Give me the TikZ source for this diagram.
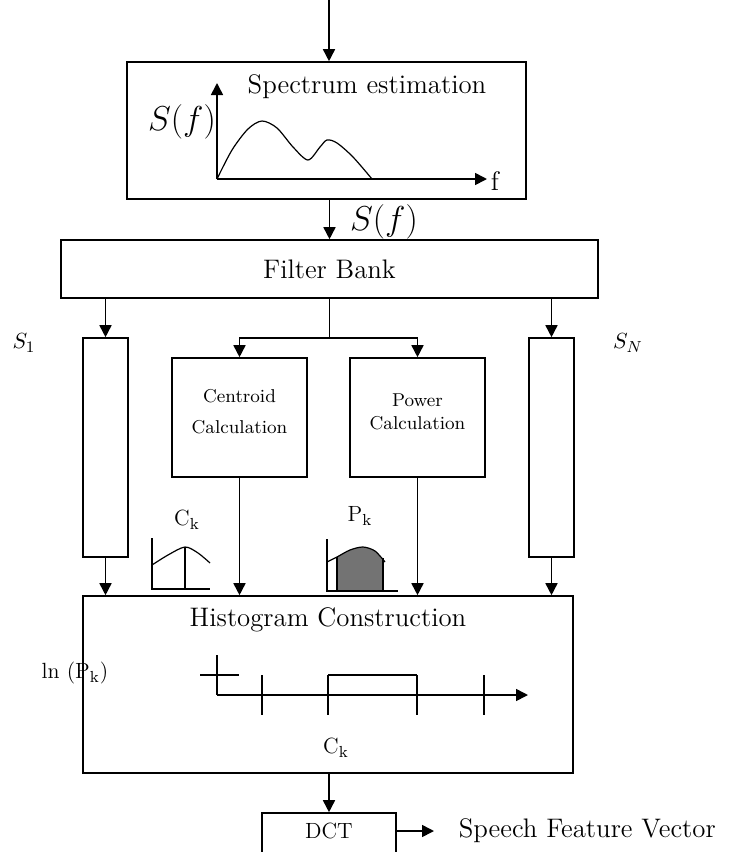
\documentclass[tikz,border=0pt]{standalone}
\usepackage{amsmath}
\usetikzlibrary{calc,arrows.meta}
\newcommand{\fsz}[1]{\fontsize{#1pt}{#1pt}\selectfont}
\tikzset{
  blk/.style={draw,inner sep=0pt},
  txt/.style={draw=none,fill=none,inner sep=1pt,align=center},
}

\begin{document}
\begin{tikzpicture}[x=0.5pt,y=-0.5pt,line width=0.8pt,>={Triangle[length=6pt,width=6pt]}]
  \useasboundingbox (0,0) rectangle (729,852);
  \clip (0,0) rectangle (729,852);

  % Spectrum estimation
  \coordinate (in) at (329,0);
  \node[blk,minimum width=199.5pt,minimum height=68.5pt] (spec) at (326.5,130.5) {};
  \node[txt] (spectitle) at (367,87) {\fsz{13.4}Spectrum estimation};
  \draw[->] (in) -- (in |- spec.north);

  % axes and curve of the spectrum
  \coordinate (o) at (217,179);
  \draw[->] (o) -- (217,83);
  \draw[->] (o) -- (487,179);
  \node[txt] (sfy) at (182,122) {\fsz{16}$S(f)$};
  \node[txt] (fx) at (495,181) {\fsz{13.4}f};
  \draw[line width=0.6pt] plot[smooth] coordinates {(217,179) (232,150) (248,129) (262,121) (277,128) (293,147) (308,160) (320,147) (327,140) (337,143) (353,157) (372,179)};

  % Filter bank
  \node[blk,minimum width=268.5pt,minimum height=29pt] (fb) at (329.5,269) {\fsz{13.4}Filter Bank};
  \draw[->] (spec.south -| fb.north) -- (fb.north);
  \node[txt] (sf) at (384,222) {\fsz{16}$S(f)$};

  % Channels S_1 ... S_N
  \node[blk,minimum width=22.5pt,minimum height=109.5pt] (s1) at (105.5,447.5) {};
  \node[blk,minimum width=22.5pt,minimum height=109.5pt] (sN) at (551.5,447.5) {};
  \node[txt] (s1lab) at (24,343) {\fsz{11}$S_1$};
  \node[txt] (sNlab) at (628,343) {\fsz{11}$S_N$};
  \draw[->] (fb.south -| s1.north) -- (s1.north);
  \draw[->] (fb.south -| sN.north) -- (sN.north);

  % Centroid and power
  \node[blk,minimum width=67.5pt,minimum height=59.5pt] (cent) at (239.5,417.5) {};
  \node[txt,font=\fontsize{9.3pt}{15.5pt}\selectfont] (centtxt) at (239.5,411.5) {Centroid\\Calculation};
  \node[blk,minimum width=67.5pt,minimum height=59.5pt] (pow) at (417.5,417.5) {};
  \node[txt,font=\fontsize{9.3pt}{11.5pt}\selectfont] (powtxt) at (417.5,411.5) {Power\\Calculation};
  \coordinate (split) at (329.5,338);
  \draw (fb.south) -- (split);
  \draw[->] (split) -| (cent.north);
  \draw[->] (split) -| (pow.north);

  % Histogram construction
  \node[blk,minimum width=245pt,minimum height=88.5pt] (hist) at (328,684.5) {};
  \node[txt] (histtitle) at (328,620) {\fsz{13.4}Histogram Construction};
  \foreach \b in {s1,cent,pow,sN}
    \draw[->] (\b.south) -- (\b.south |- hist.north);

  % small sketch of C_k
  \node[txt] (cklab) at (187,520) {\fsz{11}C$_\mathrm{k}$};
  \draw[line width=0.6pt] (152,538) -- (152,589) -- (210,589);
  \draw[line width=0.6pt] plot[smooth] coordinates {(152,565) (168,555) (185,547) (198,553) (210,563)};
  \draw[line width=0.6pt] (185,547) -- (185,589);

  % small sketch of P_k
  \node[txt] (pklab) at (360,516) {\fsz{11}P$_\mathrm{k}$};
  \begin{scope}
    \clip (337,500) rectangle (383,591);
    \fill[black!55] (327,591) -- plot[smooth] coordinates {(327,562) (337,557) (350,550) (363,547) (375,551) (385,562)} -- (385,591) -- cycle;
  \end{scope}
  \draw[line width=0.6pt] plot[smooth] coordinates {(327,562) (337,557) (350,550) (363,547) (375,551) (385,562)};
  \draw[line width=0.6pt] (327,539) -- (327,591) -- (398,591);
  \draw[line width=0.6pt] (337,557) -- (337,591);
  \draw[line width=0.6pt] (383,558) -- (383,591);

  % histogram axes
  \node[txt] (lnlab) at (75,673) {\fsz{11}ln (P$_\mathrm{k}$)};
  \draw (200,675) -- (239,675);
  \draw (217,655) -- (217,695);
  \draw[->] (217,695) -- (528,695);
  \foreach \x in {262,328,417,484}
    \draw (\x,675) -- (\x,715);
  \draw (328,675) -- (417,675);
  \node[txt] (cklabh) at (336,748) {\fsz{11}C$_\mathrm{k}$};

  % DCT
  \node[blk,minimum width=67pt,minimum height=28.5pt] (dct) at (329,841.5) {};
  \node[txt] (dcttxt) at (329,831) {\fsz{11}DCT};
  \draw[->] (hist.south -| dct.north) -- (dct.north);
  \node[txt,anchor=west] (sfv) at (456,831) {\fsz{13.4}Speech Feature Vector};
  \draw[->] (dct.east |- dcttxt) -- ([xshift=-11pt]sfv.west);

\end{tikzpicture}
\end{document}
